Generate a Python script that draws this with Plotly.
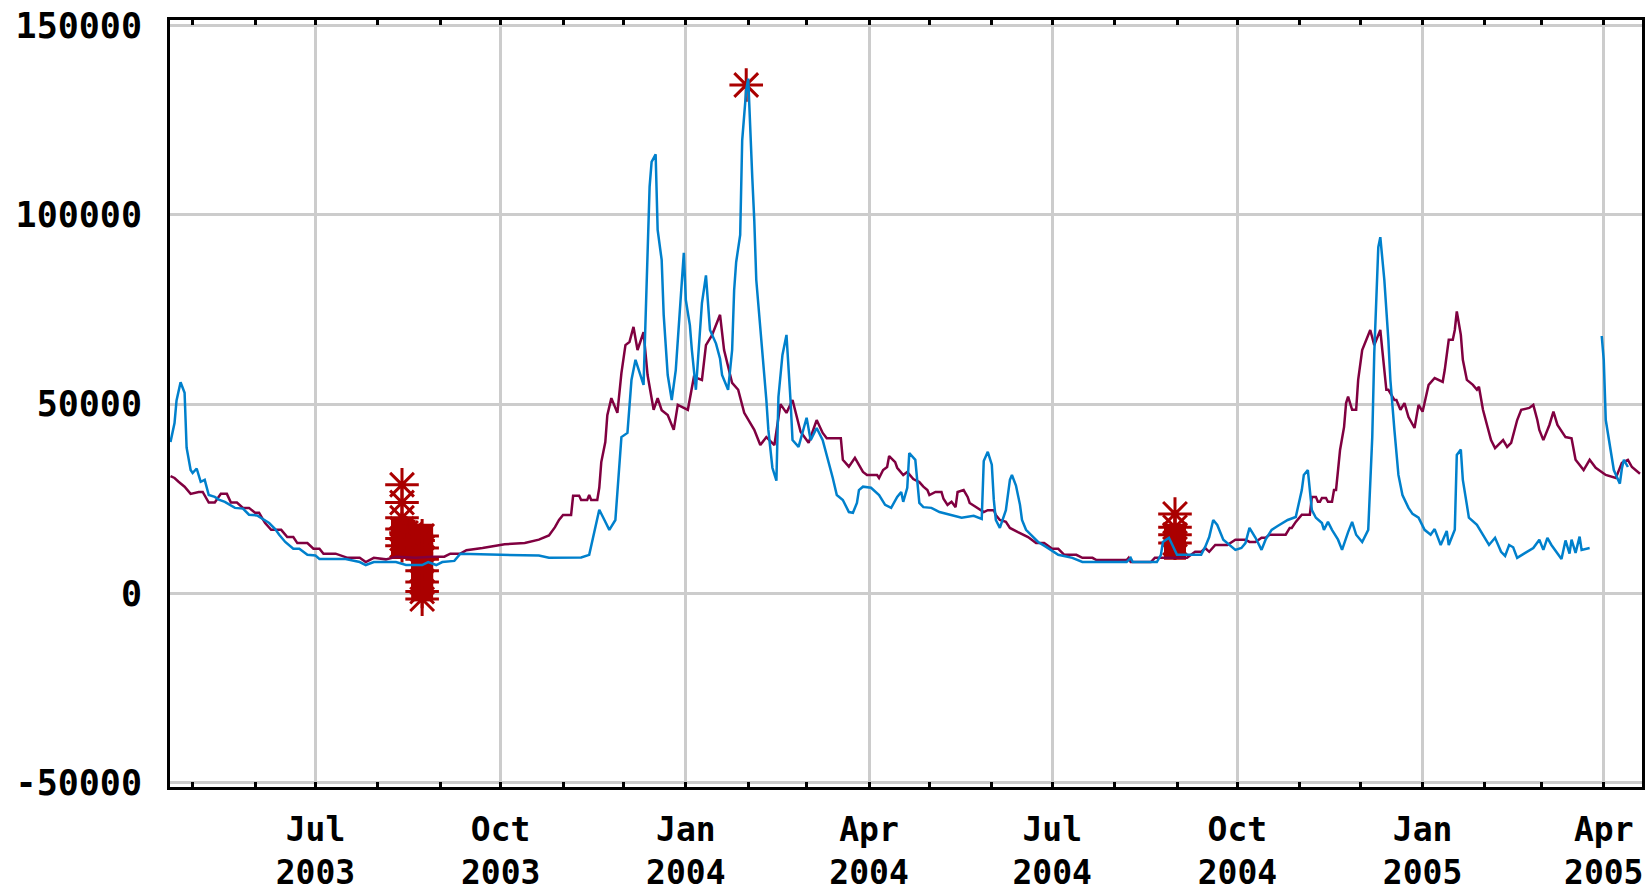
import plotly.graph_objects as go

# ---------------- data ----------------
blue_dates = [
    "2003-04-20", "2003-04-22", "2003-04-23", "2003-04-25", "2003-04-27", "2003-04-28", "2003-04-30",
    "2003-05-01", "2003-05-03", "2003-05-05", "2003-05-07", "2003-05-09", "2003-05-12", "2003-05-14",
    "2003-05-17", "2003-05-22", "2003-05-26", "2003-05-29", "2003-06-02", "2003-06-05", "2003-06-08",
    "2003-06-11", "2003-06-13", "2003-06-16", "2003-06-20", "2003-06-23", "2003-06-27", "2003-07-01",
    "2003-07-03", "2003-07-16", "2003-07-23", "2003-07-26", "2003-07-30", "2003-08-10", "2003-08-15",
    "2003-08-23", "2003-08-26", "2003-08-30", "2003-09-02", "2003-09-08", "2003-09-11", "2003-10-01",
    "2003-10-20", "2003-10-25", "2003-11-10", "2003-11-14", "2003-11-16", "2003-11-19", "2003-11-21",
    "2003-11-24", "2003-11-27", "2003-11-30", "2003-12-03", "2003-12-05", "2003-12-07", "2003-12-11",
    "2003-12-14", "2003-12-15", "2003-12-17", "2003-12-18", "2003-12-20", "2003-12-21", "2003-12-23",
    "2003-12-25", "2003-12-27", "2003-12-29", "2003-12-31", "2004-01-01", "2004-01-03", "2004-01-04",
    "2004-01-06", "2004-01-09", "2004-01-11", "2004-01-13", "2004-01-16", "2004-01-18", "2004-01-19",
    "2004-01-22", "2004-01-24", "2004-01-25", "2004-01-26", "2004-01-28", "2004-01-29", "2004-01-31",
    "2004-02-01", "2004-02-03", "2004-02-04", "2004-02-05", "2004-02-07", "2004-02-09", "2004-02-10",
    "2004-02-11", "2004-02-13", "2004-02-15", "2004-02-16", "2004-02-18", "2004-02-20", "2004-02-22",
    "2004-02-23", "2004-02-26", "2004-02-28", "2004-03-01", "2004-03-03", "2004-03-06", "2004-03-09",
    "2004-03-11", "2004-03-14", "2004-03-16", "2004-03-19", "2004-03-22", "2004-03-24", "2004-03-26",
    "2004-03-27", "2004-03-29", "2004-04-02", "2004-04-06", "2004-04-09", "2004-04-12", "2004-04-15",
    "2004-04-17", "2004-04-18", "2004-04-20", "2004-04-21", "2004-04-24", "2004-04-26", "2004-04-28",
    "2004-05-02", "2004-05-06", "2004-05-12", "2004-05-17", "2004-05-23", "2004-05-27", "2004-05-28",
    "2004-05-30", "2004-06-01", "2004-06-02", "2004-06-03", "2004-06-05", "2004-06-08", "2004-06-10",
    "2004-06-11", "2004-06-13", "2004-06-15", "2004-06-16", "2004-06-18", "2004-06-21", "2004-06-24",
    "2004-06-28", "2004-07-04", "2004-07-11", "2004-07-16", "2004-08-07", "2004-08-09", "2004-08-10",
    "2004-08-22", "2004-08-24", "2004-08-25", "2004-08-28", "2004-08-30", "2004-09-01", "2004-09-13",
    "2004-09-15", "2004-09-17", "2004-09-19", "2004-09-21", "2004-09-24", "2004-09-30", "2004-10-03",
    "2004-10-05", "2004-10-07", "2004-10-10", "2004-10-13", "2004-10-15", "2004-10-18", "2004-10-21",
    "2004-10-26", "2004-10-30", "2004-11-02", "2004-11-03", "2004-11-05", "2004-11-07", "2004-11-09",
    "2004-11-12", "2004-11-13", "2004-11-15", "2004-11-17", "2004-11-20", "2004-11-22", "2004-11-25",
    "2004-11-27", "2004-11-29", "2004-12-02", "2004-12-05", "2004-12-07", "2004-12-08", "2004-12-10",
    "2004-12-11", "2004-12-13", "2004-12-15", "2004-12-16", "2004-12-18", "2004-12-20", "2004-12-22",
    "2004-12-25", "2004-12-27", "2004-12-30", "2005-01-02", "2005-01-05", "2005-01-07", "2005-01-10",
    "2005-01-13", "2005-01-14", "2005-01-17", "2005-01-18", "2005-01-20", "2005-01-21", "2005-01-23",
    "2005-01-24", "2005-01-28", "2005-01-31", "2005-02-03", "2005-02-06", "2005-02-08", "2005-02-09",
    "2005-02-11", "2005-02-13", "2005-02-15", "2005-02-17", "2005-02-21", "2005-02-25", "2005-02-28",
    "2005-03-02", "2005-03-04", "2005-03-06", "2005-03-11", "2005-03-13", "2005-03-15", "2005-03-16",
    "2005-03-18", "2005-03-20", "2005-03-21", "2005-03-25", "2005-03-28", "2005-03-31", "2005-04-01",
    "2005-04-02", "2005-04-05", "2005-04-06", "2005-04-09", "2005-04-10", "2005-04-11", "2005-04-13",
]
blue_values = [
    40000, 45000, 51000, 55800, 53000, 38500, 32600,
    31800, 33000, 29500, 30000, 26000, 25500, 24800,
    24200, 22600, 22400, 20800, 20600, 19700, 18600,
    17000, 15500, 13600, 11800, 11800, 10200, 10000,
    9100, 9100, 8300, 7500, 8300, 8300, 7500,
    7500, 8300, 7500, 8300, 8600, 10500, 10200,
    10000, 9400, 9500, 10200, 14700, 22100, 20000,
    16800, 19400, 41300, 42400, 56400, 61700, 55100,
    107400, 114000, 116000, 96000, 88100, 73600, 57700,
    51100, 59000, 73600, 90000, 77500, 70900, 64300,
    53800, 76700, 84000, 69600, 66000, 62000, 57700,
    53800, 64300, 80100, 87500, 94700, 119700, 133000,
    136000, 110000, 98600, 82800, 70900, 59000, 51100,
    43200, 33200, 29800, 51900, 63000, 68300, 51100,
    40500, 38700, 42400, 46400, 40500, 43700, 40500,
    36600, 30500, 26000, 24700, 21500, 21300, 23900,
    27300, 28200, 27900, 26000, 23400, 22600, 25500,
    26800, 24200, 27900, 37100, 35300, 23900, 22800,
    22600, 21500, 20700, 20000, 20500, 19700, 35000,
    37400, 34000, 24700, 19400, 17300, 22000, 30000,
    31300, 28500, 23400, 19400, 16800, 15200, 13600,
    12300, 10200, 9400, 8300, 8300, 9400, 8300,
    8300, 10200, 13600, 14700, 12300, 10200, 10200,
    12300, 14900, 19400, 18100, 14200, 11500, 12000,
    13300, 17300, 14700, 11500, 14200, 16800, 17800,
    19400, 20200, 27300, 31300, 32600, 22000, 20000,
    18600, 16800, 18900, 16800, 14200, 11500, 16200,
    18900, 15500, 13600, 16800, 41300, 63500, 91500,
    94100, 82800, 67000, 56400, 43200, 31300, 26000,
    22600, 21000, 20000, 16800, 15500, 17000, 12800,
    16500, 12800, 16800, 36600, 38000, 30000, 23400,
    20000, 18100, 15500, 12800, 14700, 12500, 11000,
    9900, 12800, 12200, 9400, 10700, 12000, 14200,
    11500, 14700, 12800, 9100, 14000, 10500, 14200,
    10700, 15000, 11500, 12000, None, 68000, 61700,
    45800, 36600, 32600, 29000, 33000, 35300, 33400,
]

red_dates = [
    "2003-04-20", "2003-04-22", "2003-04-24", "2003-04-27", "2003-04-30", "2003-05-04", "2003-05-06",
    "2003-05-09", "2003-05-12", "2003-05-15", "2003-05-18", "2003-05-20", "2003-05-23", "2003-05-26",
    "2003-05-29", "2003-06-01", "2003-06-03", "2003-06-06", "2003-06-09", "2003-06-14", "2003-06-17",
    "2003-06-20", "2003-06-22", "2003-06-27", "2003-06-30", "2003-07-03", "2003-07-05", "2003-07-11",
    "2003-07-17", "2003-07-23", "2003-07-26", "2003-07-30", "2003-08-05", "2003-08-10", "2003-08-20",
    "2003-08-28", "2003-09-03", "2003-09-06", "2003-09-11", "2003-09-14", "2003-09-22", "2003-10-03",
    "2003-10-13", "2003-10-20", "2003-10-25", "2003-10-28", "2003-10-30", "2003-11-01", "2003-11-05",
    "2003-11-06", "2003-11-09", "2003-11-10", "2003-11-13", "2003-11-14", "2003-11-15", "2003-11-18",
    "2003-11-19", "2003-11-20", "2003-11-22", "2003-11-23", "2003-11-25", "2003-11-28", "2003-11-30",
    "2003-12-02", "2003-12-04", "2003-12-06", "2003-12-08", "2003-12-11", "2003-12-13", "2003-12-16",
    "2003-12-18", "2003-12-20", "2003-12-23", "2003-12-26", "2003-12-28", "2004-01-02", "2004-01-05",
    "2004-01-09", "2004-01-11", "2004-01-14", "2004-01-18", "2004-01-20", "2004-01-24", "2004-01-27",
    "2004-01-30", "2004-02-01", "2004-02-04", "2004-02-07", "2004-02-10", "2004-02-14", "2004-02-17",
    "2004-02-20", "2004-02-23", "2004-02-27", "2004-03-02", "2004-03-06", "2004-03-09", "2004-03-11",
    "2004-03-18", "2004-03-19", "2004-03-22", "2004-03-25", "2004-03-27", "2004-03-29", "2004-03-31",
    "2004-04-05", "2004-04-06", "2004-04-08", "2004-04-10", "2004-04-11", "2004-04-14", "2004-04-15",
    "2004-04-18", "2004-04-20", "2004-04-23", "2004-04-26", "2004-04-28", "2004-04-30", "2004-05-01",
    "2004-05-04", "2004-05-07", "2004-05-08", "2004-05-10", "2004-05-12", "2004-05-14", "2004-05-15",
    "2004-05-18", "2004-05-20", "2004-05-21", "2004-05-24", "2004-05-26", "2004-05-28", "2004-05-30",
    "2004-06-02", "2004-06-03", "2004-06-05", "2004-06-08", "2004-06-10", "2004-06-14", "2004-06-17",
    "2004-06-19", "2004-06-23", "2004-06-27", "2004-07-01", "2004-07-04", "2004-07-07", "2004-07-13",
    "2004-07-16", "2004-07-21", "2004-07-23", "2004-08-07", "2004-08-08", "2004-08-09", "2004-08-19",
    "2004-08-21", "2004-09-06", "2004-09-10", "2004-09-13", "2004-09-15", "2004-09-17", "2004-09-20",
    "2004-09-26", "2004-09-30", "2004-10-05", "2004-10-07", "2004-10-10", "2004-10-13", "2004-10-15",
    "2004-10-17", "2004-10-25", "2004-10-27", "2004-10-28", "2004-10-30", "2004-11-02", "2004-11-06",
    "2004-11-07", "2004-11-09", "2004-11-10", "2004-11-11", "2004-11-12", "2004-11-14", "2004-11-15",
    "2004-11-17", "2004-11-18", "2004-11-19", "2004-11-20", "2004-11-21", "2004-11-23", "2004-11-24",
    "2004-11-25", "2004-11-27", "2004-11-29", "2004-11-30", "2004-12-02", "2004-12-04", "2004-12-06",
    "2004-12-08", "2004-12-11", "2004-12-12", "2004-12-14", "2004-12-15", "2004-12-18", "2004-12-19",
    "2004-12-21", "2004-12-23", "2004-12-25", "2004-12-28", "2004-12-30", "2005-01-01", "2005-01-04",
    "2005-01-07", "2005-01-11", "2005-01-12", "2005-01-14", "2005-01-16", "2005-01-17", "2005-01-18",
    "2005-01-20", "2005-01-21", "2005-01-23", "2005-01-26", "2005-01-28", "2005-01-29", "2005-01-31",
    "2005-02-02", "2005-02-04", "2005-02-06", "2005-02-10", "2005-02-12", "2005-02-14", "2005-02-17",
    "2005-02-19", "2005-02-23", "2005-02-25", "2005-02-27", "2005-02-28", "2005-03-02", "2005-03-05",
    "2005-03-07", "2005-03-09", "2005-03-13", "2005-03-16", "2005-03-18", "2005-03-22", "2005-03-25",
    "2005-03-28", "2005-04-02", "2005-04-07", "2005-04-10", "2005-04-13", "2005-04-15", "2005-04-19",
]
red_values = [
    31000, 30500, 29500, 28200, 26300, 26800, 26800,
    24000, 24000, 26300, 26300, 24000, 24000, 22600,
    22600, 21300, 21300, 18600, 16800, 16800, 14900,
    14900, 13300, 13300, 11800, 11800, 10500, 10500,
    9400, 9400, 8300, 9400, 9000, 9700, 9400,
    9700, 9700, 10500, 10500, 11400, 12000, 13000,
    13300, 14200, 15300, 17500, 19400, 20700, 20700,
    25800, 25800, 24700, 24700, 26000, 24700, 24700,
    27900, 34700, 40000, 47100, 51600, 47700, 58200,
    65600, 66400, 70400, 64300, 69000, 57700, 48500,
    51600, 48400, 47100, 43200, 49800, 48500, 57200,
    56400, 65600, 68200, 73600, 64300, 55600, 53800,
    47700, 45800, 43200, 39200, 41300, 39200, 50000,
    47700, 51100, 42700, 39800, 45800, 42400, 41000,
    41000, 35300, 33500, 35800, 34000, 32100, 31300,
    31300, 30500, 32600, 33400, 36300, 34700, 33200,
    31300, 32100, 30200, 29400, 28200, 27300, 26000,
    26800, 26800, 25000, 23400, 24200, 22800, 26800,
    27300, 25500, 23900, 22800, 22000, 21500, 22000,
    22000, 20700, 19400, 18900, 17300, 16200, 15500,
    14900, 13300, 13300, 11800, 11800, 10200, 10200,
    9400, 9400, 8800, 8800, 9400, 8300, 8300,
    9400, 9400, 11000, 11000, 12000, 11000, 12800,
    12800, 14200, 14200, 13600, 13600, 14700, 14700,
    15500, 15500, 17300, 17300, 18900, 20800, 20800,
    25500, 25500, 24200, 24200, 25200, 25200, 24200,
    24200, 27300, 27300, 32600, 37900, 44000, 50300,
    52000, 48500, 48500, 56400, 64300, 67000, 69600,
    65600, 69600, 64300, 53800, 53800, 51100, 51100,
    48500, 50300, 46600, 43700, 49800, 48000, 55100,
    56900, 55900, 59000, 67000, 67000, 69600, 74500,
    68300, 61700, 56400, 55100, 53800, 54600, 48500,
    44500, 40500, 38400, 40500, 38700, 39800, 45800,
    48500, 49000, 49800, 45800, 43200, 40500, 44500,
    48000, 44500, 41300, 41000, 35300, 32600, 35300,
    33200, 31300, 30500, 34500, 35300, 33400, 31600,
]

# star events (asterisk markers)
event_dates = [
    "2003-08-13", "2003-08-13", "2003-08-13", "2003-08-13", "2003-08-13", "2003-08-13",
    "2003-08-15", "2003-08-16", "2003-08-17", "2003-08-18", "2003-08-19", "2003-08-20", "2003-08-21",
    "2003-08-23", "2003-08-23", "2003-08-23", "2003-08-23", "2003-08-23", "2003-08-23", "2003-08-23",
    "2004-01-31",
    "2004-08-31", "2004-08-31", "2004-08-31", "2004-08-31",
]
event_values = [
    28700, 24000, 20000, 17000, 14500, 12600,
    16000, 13500, 15500, 13000, 15000, 12500, 14000,
    15200, 12000, 9000, 6000, 3000, 500, -1500,
    134300,
    21000, 17500, 15500, 13300,
]
# dense stacked events (solid blocks)
block_dates = [
    "2003-08-13", "2003-08-13", "2003-08-13", "2003-08-15", "2003-08-17", "2003-08-19",
    "2003-08-21", "2003-08-23", "2003-08-23", "2003-08-23", "2003-08-23", "2003-08-23",
    "2003-08-23", "2003-08-23",
    "2004-08-31", "2004-08-31", "2004-08-31",
]
block_values = [
    17000, 14500, 12000, 14000, 13500, 14000,
    13500, 15500, 13000, 10500, 8000, 5500,
    3000, 800,
    15500, 13500, 11800,
]

x_tick_vals = ["2003-07-01", "2003-10-01", "2004-01-01", "2004-04-01",
               "2004-07-01", "2004-10-01", "2005-01-01", "2005-04-01"]
x_tick_text = ["Jul<br>2003", "Oct<br>2003", "Jan<br>2004", "Apr<br>2004",
               "Jul<br>2004", "Oct<br>2004", "Jan<br>2005", "Apr<br>2005"]
y_tick_vals = [-50000, 0, 50000, 100000, 150000]
y_tick_text = ["-50000", "0", "50000", "100000", "150000"]

# ---------------- figure ----------------
RED_LINE = "#800040"
BLUE_LINE = "#0080CC"
MARK = "#AA0000"
GRID = "#CCCCCC"
xfont = dict(family="DejaVu Sans Mono", size=33, color="black", weight="bold")
yfont = dict(family="DejaVu Sans Mono", size=35, color="black", weight="bold")

fig = go.Figure()
fig.add_trace(go.Scatter(
    x=block_dates, y=block_values, mode="markers", name="events block",
    marker=dict(symbol="square", size=22, color=MARK, line=dict(width=0)),
    showlegend=False, hoverinfo="skip",
))
fig.add_trace(go.Scatter(
    x=event_dates, y=event_values, mode="markers", name="events",
    marker=dict(symbol="asterisk-open", size=28, color=MARK,
                line=dict(color=MARK, width=3)),
    showlegend=False, hoverinfo="skip",
))
fig.add_trace(go.Scatter(
    x=red_dates, y=red_values, mode="lines", name="red",
    line=dict(color=RED_LINE, width=2.5), showlegend=False,
))
fig.add_trace(go.Scatter(
    x=blue_dates, y=blue_values, mode="lines", name="blue",
    line=dict(color=BLUE_LINE, width=2.5), connectgaps=False, showlegend=False,
))

fig.update_layout(
    width=1648, height=890,
    margin=dict(l=170, r=6, t=20, b=103),
    paper_bgcolor="white", plot_bgcolor="white",
    showlegend=False,
    xaxis=dict(
        type="date",
        range=["2003-04-19 18:00", "2005-04-20 00:00"],
        tickmode="array", tickvals=x_tick_vals, ticktext=x_tick_text,
        ticks="inside", ticklen=5, tickwidth=3, tickcolor="black",
        showgrid=True, gridcolor=GRID, gridwidth=3,
        showline=True, linecolor="black", linewidth=3, mirror="ticks",
        zeroline=False, tickfont=xfont, ticklabelstandoff=11, automargin=False,
        minor=dict(tickmode="linear", tick0="2003-05-01", dtick="M1",
                   ticks="inside", ticklen=5, tickwidth=3, tickcolor="black",
                   showgrid=False),
    ),
    yaxis=dict(
        range=[-51135, 151480],
        tickmode="array", tickvals=y_tick_vals, ticktext=y_tick_text,
        ticks="",
        showgrid=True, gridcolor=GRID, gridwidth=3,
        showline=True, linecolor="black", linewidth=3, mirror=True,
        zeroline=False, tickfont=yfont, ticklabelstandoff=18, automargin=False,
    ),
)

fig.write_html("out.html")
